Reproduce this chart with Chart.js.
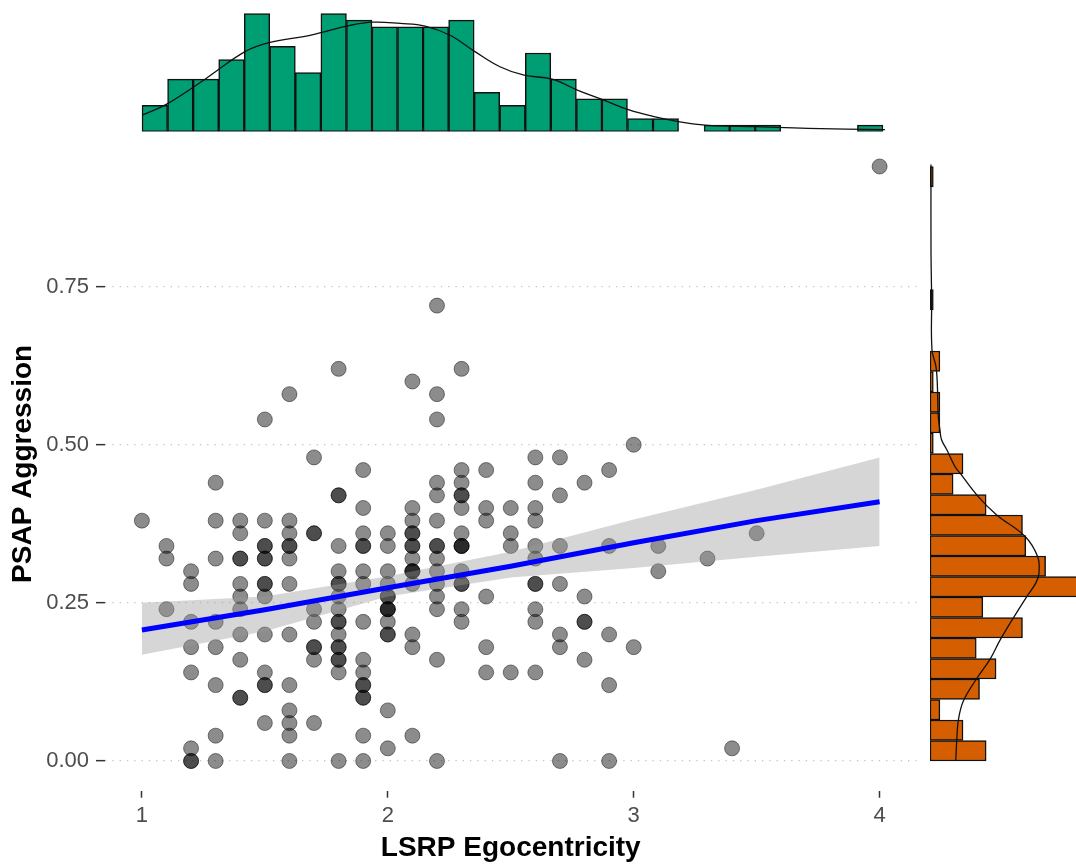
<!DOCTYPE html>
<html>
<head>
<meta charset="utf-8">
<script src="https://cdn.jsdelivr.net/npm/chart.js@4.4.0/dist/chart.umd.min.js"></script>
<style>
  html, body { margin: 0; padding: 0; background: #fff; }
  #wrap { position: relative; width: 1076px; height: 867px; overflow: hidden; background: #fff; }
  canvas { position: absolute; }
  #topHist   { left: 105px; top: 0; }
  #rightHist { left: 928px; top: 0; }
  #mainChart { left: 0; top: 0; }
</style>
</head>
<body>
<div id="wrap">
  <canvas id="topHist" width="815" height="135"></canvas>
  <canvas id="rightHist" width="148" height="867"></canvas>
  <canvas id="mainChart" width="925" height="867"></canvas>
</div>
<script>
// ─── Data ─────────────────────────────────────────────
// scatter: LSRP egocentricity columns and the PSAP values at each
const egoCols = [1.0, 1.1, 1.2, 1.3, 1.4, 1.5, 1.6, 1.7, 1.8, 1.9, 2.0, 2.1, 2.2, 2.3,
                 2.4, 2.5, 2.6, 2.7, 2.8, 2.9, 3.0, 3.1, 3.3, 3.4, 3.5, 4.0];
const aggByCol = [
  [0.38],
  [0.34, 0.32, 0.24],
  [0.30, 0.28, 0.22, 0.18, 0.14, 0.02, 0.00, 0.00],
  [0.44, 0.38, 0.32, 0.22, 0.18, 0.12, 0.04, 0.00],
  [0.38, 0.36, 0.32, 0.32, 0.28, 0.26, 0.24, 0.20, 0.16, 0.10, 0.10],
  [0.54, 0.38, 0.34, 0.34, 0.32, 0.32, 0.28, 0.28, 0.26, 0.20, 0.14, 0.12, 0.12, 0.06],
  [0.58, 0.38, 0.36, 0.34, 0.34, 0.32, 0.28, 0.20, 0.12, 0.08, 0.06, 0.04, 0.00],
  [0.48, 0.36, 0.36, 0.24, 0.22, 0.18, 0.18, 0.16, 0.06],
  [0.62, 0.42, 0.42, 0.34, 0.30, 0.28, 0.28, 0.26, 0.24, 0.22, 0.22, 0.20, 0.18, 0.18, 0.16, 0.16, 0.14, 0.00],
  [0.46, 0.40, 0.36, 0.34, 0.34, 0.30, 0.28, 0.22, 0.16, 0.14, 0.12, 0.12, 0.10, 0.10, 0.04, 0.00],
  [0.36, 0.34, 0.30, 0.28, 0.26, 0.26, 0.24, 0.24, 0.24, 0.22, 0.20, 0.20, 0.08, 0.02],
  [0.60, 0.40, 0.38, 0.36, 0.36, 0.34, 0.34, 0.32, 0.30, 0.30, 0.30, 0.28, 0.20, 0.18, 0.04],
  [0.72, 0.58, 0.54, 0.44, 0.42, 0.38, 0.34, 0.34, 0.32, 0.30, 0.28, 0.26, 0.24, 0.16, 0.00],
  [0.62, 0.46, 0.44, 0.42, 0.42, 0.40, 0.36, 0.34, 0.34, 0.34, 0.30, 0.28, 0.28, 0.24, 0.22],
  [0.46, 0.40, 0.38, 0.26, 0.18, 0.14],
  [0.40, 0.36, 0.34, 0.14],
  [0.48, 0.44, 0.40, 0.38, 0.34, 0.32, 0.28, 0.28, 0.24, 0.22, 0.14],
  [0.48, 0.42, 0.34, 0.28, 0.20, 0.18, 0.00],
  [0.44, 0.26, 0.22, 0.22, 0.16],
  [0.46, 0.34, 0.20, 0.12, 0.00],
  [0.50, 0.18],
  [0.34, 0.30],
  [0.32],
  [0.02],
  [0.36],
  [0.94],
];

// linear fit and its confidence band
const fitX   = [1.0,   1.5,   2.0,   2.5,   3.0,   3.5,   4.0];
const fitY   = [0.207, 0.239, 0.274, 0.308, 0.345, 0.380, 0.410];
const ciLow  = [0.168, 0.205, 0.260, 0.290, 0.305, 0.323, 0.340];
const ciHigh = [0.250, 0.260, 0.292, 0.331, 0.382, 0.429, 0.480];

// top marginal histogram (x) — counts per bin, bins start at 1.0
const topBinStart = 1.0, topBinWidth = 3 / 29;
const topCounts = [4, 8, 8, 11, 18, 13, 9, 18, 17, 16, 16, 16, 17, 6, 4, 12, 8, 5, 5, 2, 2, 0, 1, 1, 1, 0, 0, 0, 1];
const topCurveX = [1.0, 1.10, 1.255, 1.417, 1.518, 1.68, 1.842, 1.935, 2.045, 2.146, 2.247, 2.348,
                   2.449, 2.547, 2.66, 2.765, 2.87, 2.972, 3.073, 3.178, 3.279, 3.49, 3.696, 4.008];
const topCurveY = [2.5, 4.2, 8.0, 12.2, 13.6, 14.7, 16.2, 16.7, 16.5, 16.1, 14.7, 12.2,
                   9.9, 8.6, 8.0, 6.3, 4.8, 3.3, 2.3, 1.5, 1.0, 0.75, 0.5, 0.3];

// right marginal histogram (y) — counts per bin from 0 upward
const rightBinStart = 0, rightBinWidth = 0.94 / 29;
const rightCounts = [17, 10, 3, 15, 20, 14, 28, 16, 48, 35, 29, 28, 17, 7, 10, 1, 3, 3, 1, 3, 0, 0, 1, 0, 0, 0, 0, 0, 1];
const rightCurveY = [0.0, 0.033, 0.065, 0.095, 0.13, 0.161, 0.191, 0.226, 0.26, 0.282, 0.297, 0.323, 0.355,
                     0.389, 0.418, 0.455, 0.466, 0.492, 0.508, 0.524, 0.545, 0.598, 0.624, 0.65, 0.73, 0.81, 0.943];
const rightCurveX = [7.8, 8.1, 8.6, 10.1, 14.1, 18.2, 21.2, 25.2, 29.3, 32.1, 33.0, 32.6, 28.8,
                     20.2, 14.6, 9.1, 7.5, 5.1, 3.5, 3.0, 2.5, 2.2, 1.8, 0.6, 0.5, 0.3, 0.3];

const xTicks = [1, 2, 3, 4];
const yTicks = [0, 0.25, 0.5, 0.75];

// ─── Shared ───────────────────────────────────────────
const X_MIN = 0.85, X_MAX = 4.15;
const Y_MIN = -0.047, Y_MAX = 0.9866;
const FONT = 'Liberation Sans, Arial, sans-serif';
const base = { responsive: false, animation: false, devicePixelRatio: 1,
               plugins: { legend: { display: false }, tooltip: { enabled: false } } };

// ─── Main scatter ─────────────────────────────────────
const points = [];
egoCols.forEach((x, i) => aggByCol[i].forEach(y => points.push({ x, y })));

new Chart(document.getElementById('mainChart'), {
  type: 'scatter',
  data: { datasets: [
    { type: 'scatter', data: points, order: 3,
      pointRadius: 7.5, pointBackgroundColor: 'rgba(0,0,0,0.45)',
      pointBorderColor: 'rgba(0,0,0,0.45)', pointBorderWidth: 1 },
    { type: 'line', data: fitX.map((x, i) => ({ x, y: ciLow[i] })), order: 2,
      borderColor: 'rgba(0,0,0,0)', borderWidth: 0, pointRadius: 0, fill: false },
    { type: 'line', data: fitX.map((x, i) => ({ x, y: ciHigh[i] })), order: 2,
      borderColor: 'rgba(0,0,0,0)', borderWidth: 0, pointRadius: 0,
      fill: 1, backgroundColor: 'rgba(153,153,153,0.4)' },
    { type: 'line', data: fitX.map((x, i) => ({ x, y: fitY[i] })), order: 1,
      borderColor: '#0000ff', borderWidth: 5, pointRadius: 0, fill: false },
  ]},
  options: {
    ...base,
    layout: { padding: { top: 137, right: 5, left: 0, bottom: 0 } },
    scales: {
      x: {
        type: 'linear', min: X_MIN, max: X_MAX,
        afterBuildTicks: s => { s.ticks = xTicks.map(v => ({ value: v })); },
        afterFit: s => { s.height = 76.3; },
        grid: { drawOnChartArea: false, drawTicks: true, tickLength: 7, tickColor: '#333', tickWidth: 1.5 },
        border: { display: false },
        ticks: { color: '#4d4d4d', font: { family: FONT, size: 22 }, padding: 5, callback: v => String(v) },
        title: { display: true, text: 'LSRP Egocentricity', color: '#000',
                 font: { family: FONT, size: 28, weight: 'bold' }, padding: { top: 0, bottom: 2 } },
      },
      y: {
        type: 'linear', min: Y_MIN, max: Y_MAX,
        afterBuildTicks: s => { s.ticks = yTicks.map(v => ({ value: v })); },
        afterFit: s => { s.width = 105; },
        grid: { color: '#c4c4c4', lineWidth: 1.3, borderDash: [1.3, 6], drawTicks: true,
                tickLength: 9, tickColor: '#333', tickWidth: 1.5, tickBorderDash: [] },
        border: { display: false, dash: [1.3, 6] },
        ticks: { color: '#4d4d4d', font: { family: FONT, size: 22 }, padding: 7, callback: v => v.toFixed(2) },
        title: { display: true, text: 'PSAP Aggression', color: '#000',
                 font: { family: FONT, size: 28, weight: 'bold' }, padding: { top: 6, bottom: 0 } },
      },
    },
  },
});

// ─── Top marginal histogram ──────────────────────────
new Chart(document.getElementById('topHist'), {
  type: 'bar',
  data: { datasets: [
    { type: 'bar', order: 2,
      data: topCounts.map((c, i) => ({ x: topBinStart + (i + 0.5) * topBinWidth, y: c })),
      backgroundColor: '#009E73', borderColor: '#111', borderWidth: 1.5, borderSkipped: false,
      barPercentage: 1, categoryPercentage: 1 },
    { type: 'line', order: 1,
      data: topCurveX.map((x, i) => ({ x, y: topCurveY[i] })),
      borderColor: '#111', borderWidth: 1.3, pointRadius: 0, tension: 0.4, fill: false },
  ]},
  options: {
    ...base,
    layout: { padding: { top: 12, bottom: 3.4, left: 0, right: 0 } },
    scales: {
      x: { type: 'linear', min: X_MIN, max: X_MAX, offset: false, display: false },
      y: { type: 'linear', min: 0, max: 18.25, offset: false, display: false },
    },
  },
});

// ─── Right marginal histogram ────────────────────────
new Chart(document.getElementById('rightHist'), {
  type: 'bar',
  data: { datasets: [
    { type: 'bar', order: 2,
      data: rightCounts.map((c, i) => ({ y: rightBinStart + (i + 0.5) * rightBinWidth, x: c })),
      backgroundColor: '#D55E00', borderColor: '#111', borderWidth: 1.5, borderSkipped: false,
      barPercentage: 1, categoryPercentage: 1 },
    { type: 'line', order: 1, indexAxis: 'y',
      data: rightCurveY.map((y, i) => ({ x: rightCurveX[i], y })),
      borderColor: '#111', borderWidth: 1.3, pointRadius: 0, tension: 0.4, fill: false },
  ]},
  options: {
    ...base,
    indexAxis: 'y',
    layout: { padding: { top: 137, bottom: 76.3, left: 2, right: 0 } },
    scales: {
      x: { type: 'linear', min: 0, max: 44.2, offset: false, display: false },
      y: { type: 'linear', min: Y_MIN, max: Y_MAX, offset: false, display: false },
    },
  },
});
</script>
</body>
</html>
